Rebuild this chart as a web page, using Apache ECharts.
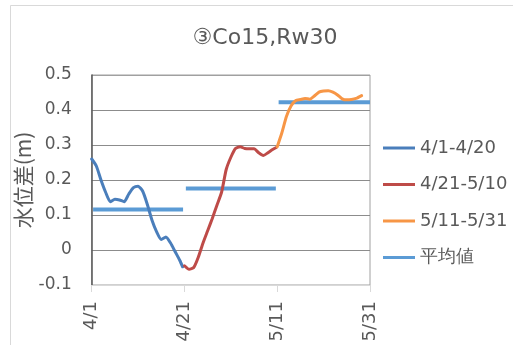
<!DOCTYPE html>
<html>
<head>
<meta charset="utf-8">
<script src="https://cdn.jsdelivr.net/npm/echarts@6/dist/echarts.min.js"></script>
<style>
  html, body { margin: 0; padding: 0; background: #fff; }
  #chart { width: 513px; height: 345px; }
</style>
</head>
<body>
<div id="chart"></div>
<script>
// Water level difference (m), days counted from 4/1
const blueDays = [0, 1, 2, 3, 4, 5, 6, 7, 8, 9, 10, 11, 12, 13, 14, 15, 16, 17, 18, 19, 19.6];
const blueLevels = [0.26, 0.24, 0.20, 0.165, 0.138, 0.145, 0.143, 0.138, 0.16, 0.178, 0.182, 0.168, 0.13, 0.085, 0.052, 0.03, 0.037, 0.02, -0.005, -0.03, -0.048];

const redDays = [20, 21, 22, 23, 24, 25, 26, 27, 28, 29, 30, 31, 32, 33, 34, 35, 36, 37, 38, 39, 39.8];
const redLevels = [-0.045, -0.055, -0.05, -0.02, 0.02, 0.055, 0.09, 0.128, 0.165, 0.23, 0.265, 0.29, 0.295, 0.29, 0.289, 0.289, 0.278, 0.27, 0.278, 0.287, 0.293];

const orangeDays = [40, 41, 42, 43, 44, 45, 46, 47, 48, 49, 50, 51, 52, 53, 54, 55, 56, 57, 58.2];
const orangeLevels = [0.295, 0.335, 0.382, 0.412, 0.427, 0.43, 0.433, 0.431, 0.44, 0.451, 0.454, 0.455, 0.451, 0.443, 0.432, 0.429, 0.43, 0.433, 0.441];

// Period averages
const meanStart = [0.3, 20.3, 40.3];
const meanEnd = [19.7, 39.7, 60];
const meanValues = [0.116, 0.176, 0.422];

const periodNames = ['4/1-4/20', '4/21-5/10', '5/11-5/31'];
const meanName = '平均値';
const tickDays = [0, 20, 40, 60];
const tickLabels = ['4/1', '4/21', '5/11', '5/31'];

const FONT = 'DejaVu Sans';
const TXT = '#595959';

function pairs(xs, ys) { return xs.map((x, i) => [x, ys[i]]); }

const dataSeries = [
  { name: periodNames[0], color: '#4A7EBB', data: pairs(blueDays, blueLevels) },
  { name: periodNames[1], color: '#BE4B48', data: pairs(redDays, redLevels) },
  { name: periodNames[2], color: '#F79646', data: pairs(orangeDays, orangeLevels) }
].map(s => ({
  type: 'line', name: s.name, data: s.data, showSymbol: false, smooth: 0.2,
  color: s.color, lineStyle: { width: 3, color: s.color, cap: 'round', join: 'round' },
  z: 3
}));

const meanSeries = meanValues.map((v, i) => ({
  type: 'line', name: meanName, showSymbol: false,
  data: [[meanStart[i], v], [meanEnd[i], v]],
  color: '#5B9BD5', lineStyle: { width: 4, color: '#5B9BD5', cap: 'butt' },
  z: 2
}));

const chart = echarts.init(document.getElementById('chart'));
chart.setOption({
  animation: false,
  backgroundColor: '#fff',
  graphic: [
    { type: 'rect', shape: { x: 10.5, y: 5.5, width: 520, height: 360 },
      style: { fill: 'none', stroke: '#d9d9d9', lineWidth: 1 }, z: -1 },
    { type: 'text', x: 265, y: 38,
      style: { text: '③Co15,Rw30', font: '22px "DejaVu Sans"', fill: TXT,
               textAlign: 'center', textVerticalAlign: 'middle' } }
  ],
  grid: { left: 91.7, right: 143, top: 75, bottom: 60, show: true,
          borderColor: '#a0a0a0', borderWidth: 1, backgroundColor: 'transparent' },
  legend: {
    orient: 'vertical', left: 378, top: 133,
    data: periodNames.concat([meanName]),
    icon: 'rect', itemWidth: 32, itemHeight: 3, itemGap: 16.5,
    textStyle: { fontFamily: FONT, fontSize: 18, color: TXT, lineHeight: 20 }
  },
  xAxis: {
    type: 'value', min: 0, max: 60, interval: 20,
    axisLine: { show: true, onZero: false, lineStyle: { color: '#d9d9d9' } },
    axisTick: { show: true, length: 7, lineStyle: { color: '#d9d9d9' } },
    splitLine: { show: false },
    axisLabel: {
      rotate: 90, margin: 16, fontFamily: FONT, fontSize: 18, color: TXT,
      formatter: v => tickLabels[tickDays.indexOf(v)]
    }
  },
  yAxis: {
    type: 'value', min: -0.1, max: 0.5, interval: 0.1,
    name: '水位差(m)', nameLocation: 'middle', nameGap: 58, nameRotate: 90,
    nameMoveOverlap: false,
    nameTextStyle: { fontFamily: '"Noto Sans CJK JP"', fontSize: 21, color: TXT },
    axisLine: { show: true, lineStyle: { color: '#595959', width: 1.5 } },
    axisTick: { show: false },
    splitLine: { show: true, lineStyle: { color: ['#d9d9d9', '#8c8c8c', '#8c8c8c', '#8c8c8c', '#8c8c8c', '#8c8c8c', '#a0a0a0'] } },
    axisLabel: {
      margin: 20, fontFamily: FONT, fontSize: 17, color: TXT,
      formatter: v => (Math.abs(v) < 1e-9 ? '0' : v.toFixed(1))
    }
  },
  series: dataSeries.concat(meanSeries)
});
</script>
</body>
</html>
